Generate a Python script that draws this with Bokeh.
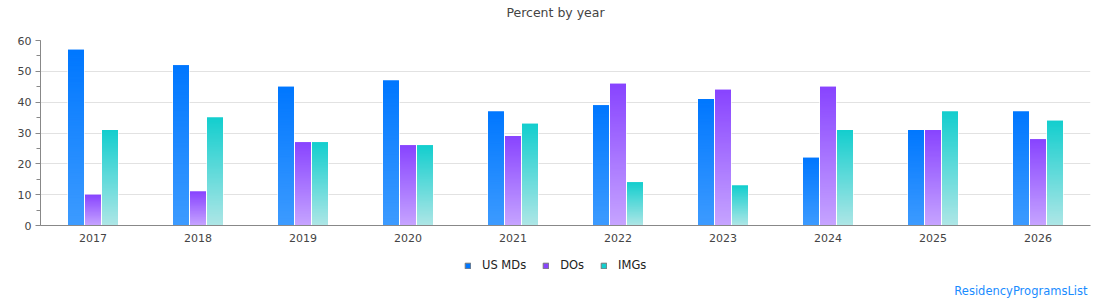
import math
from bokeh.plotting import figure
from bokeh.layouts import column
from bokeh.models import (ColumnDataSource, FactorRange, Range1d, Legend, LegendItem,
                          Label, SingleIntervalTicker)
from bokeh.transform import dodge
from bokeh.embed import file_html
from bokeh.resources import INLINE

years = ["2017", "2018", "2019", "2020", "2021", "2022", "2023", "2024", "2025", "2026"]
us_mds = [57, 52, 45, 47, 37, 39, 41, 22, 31, 37]
dos = [10, 11, 27, 26, 29, 46, 44, 45, 31, 28]
imgs = [31, 35, 27, 26, 33, 14, 13, 31, 37, 34]
series_names = ["US MDs", "DOs", "IMGs"]

# (top colour, bottom colour) for the vertical gradient of each series
gradients = [("#0077ff", "#3d9bff"), ("#8844ff", "#c6a4ff"), ("#13cece", "#aee6e6")]
offsets = [-0.162, 0.0, 0.162]
bar_w = 0.152
slice_h = 0.4   # gradient slice height in percent units

FONT = "DejaVu Sans"


def strip(height):
    """A blank strip with the same side borders as the chart, for text above/below it."""
    f = figure(width=1110, height=height, x_range=Range1d(40, 1090),
               y_range=Range1d(0, height), output_backend="svg", toolbar_location=None,
               min_border_left=40, min_border_right=20, min_border_top=0, min_border_bottom=0)
    f.axis.visible = False
    f.grid.visible = False
    f.outline_line_color = None
    return f


# header with the chart title
head = strip(32)
head.add_layout(Label(x=555, y=20, text="Percent by year", text_align="center",
                      text_baseline="middle", text_font=FONT, text_font_size="12.5px",
                      text_color="#444444"))

p = figure(width=1110, height=218, x_range=FactorRange(*years, range_padding=0),
           y_range=Range1d(0, 60), output_backend="svg", toolbar_location=None,
           min_border_left=40, min_border_right=20, min_border_top=8, min_border_bottom=25)
p.outline_line_color = None
p.background_fill_color = "white"
p.border_fill_color = "white"


def hex_rgb(h):
    return tuple(int(h[i:i + 2], 16) for i in (1, 3, 5))


def mix(top, bottom, t):
    a, b = hex_rgb(top), hex_rgb(bottom)
    return "#%02x%02x%02x" % tuple(round(b[k] + (a[k] - b[k]) * t) for k in range(3))


series_keys = []
for name, vals, (c_top, c_bot), off in zip(series_names, [us_mds, dos, imgs], gradients, offsets):
    # white backing so each bar is separated from its neighbours and from the grid
    back = ColumnDataSource(dict(x=years, top=[v + 0.12 for v in vals]))
    p.vbar(x=dodge("x", off, range=p.x_range), top="top", bottom=0, width=bar_w + 0.012,
           source=back, fill_color="white", line_color=None)
    # each bar is built from thin overlapping slices to give a vertical gradient
    xs, bots, tops, cols = [], [], [], []
    for yr, v in zip(years, vals):
        n = max(1, math.ceil(v / slice_h))
        step = v / n
        for i in range(n):
            xs.append(yr)
            bots.append(step * i)
            tops.append(min(v, step * i + 2 * slice_h))
            cols.append(mix(c_top, c_bot, (i + 0.5) / n))
    src = ColumnDataSource(dict(x=xs, bottom=bots, top=tops, color=cols))
    p.vbar(x=dodge("x", off, range=p.x_range), top="top", bottom="bottom", width=bar_w,
           source=src, fill_color="color", line_color=None)
    series_keys.append((name, c_top))

p.ygrid.grid_line_color = "#e2e2e2"
p.xgrid.grid_line_color = None

p.yaxis.ticker = SingleIntervalTicker(interval=10, num_minor_ticks=2)
p.yaxis.axis_line_color = "#888888"
p.yaxis.major_tick_line_color = "#888888"
p.yaxis.minor_tick_line_color = "#888888"
p.yaxis.major_tick_out = 5
p.yaxis.major_tick_in = 0
p.yaxis.minor_tick_out = 4
p.yaxis.minor_tick_in = 0
p.yaxis.major_label_standoff = 4
p.yaxis.major_label_text_font = FONT
p.yaxis.major_label_text_font_size = "11px"
p.yaxis.major_label_text_color = "#444444"

p.xaxis.axis_line_color = "#888888"
p.xaxis.major_tick_line_color = None
p.xaxis.minor_tick_line_color = None
p.xaxis.major_tick_out = 0
p.xaxis.major_tick_in = 0
p.xaxis.major_label_standoff = 8
p.xaxis.major_label_text_font = FONT
p.xaxis.major_label_text_font_size = "11px"
p.xaxis.major_label_text_color = "#444444"

# footer strip holding the legend and the site credit
foot = strip(50)
legend_items = []
for name, color in series_keys:
    # key glyph kept outside the visible range; only its legend swatch shows
    key = foot.quad(left=[-20], right=[-10], top=[-10], bottom=[-20], fill_color=color,
                    line_color="#777777", line_width=1)
    legend_items.append(LegendItem(label=name, renderers=[key]))

legend = Legend(items=legend_items, orientation="horizontal", location=(424, 28),
                glyph_width=7, glyph_height=7, label_text_font=FONT,
                label_text_font_size="11.5px", label_text_color="#222222",
                border_line_color=None, background_fill_alpha=0,
                spacing=16, label_standoff=11, padding=4, margin=0)
foot.add_layout(legend, "center")

foot.add_layout(Label(x=1087, y=10, text="ResidencyProgramsList", text_align="right",
                      text_baseline="middle", text_font=FONT, text_font_size="11.5px",
                      text_color="#1a8cff"))

layout = column(head, p, foot, spacing=0)
open("out.html", "w").write(file_html(layout, INLINE))
